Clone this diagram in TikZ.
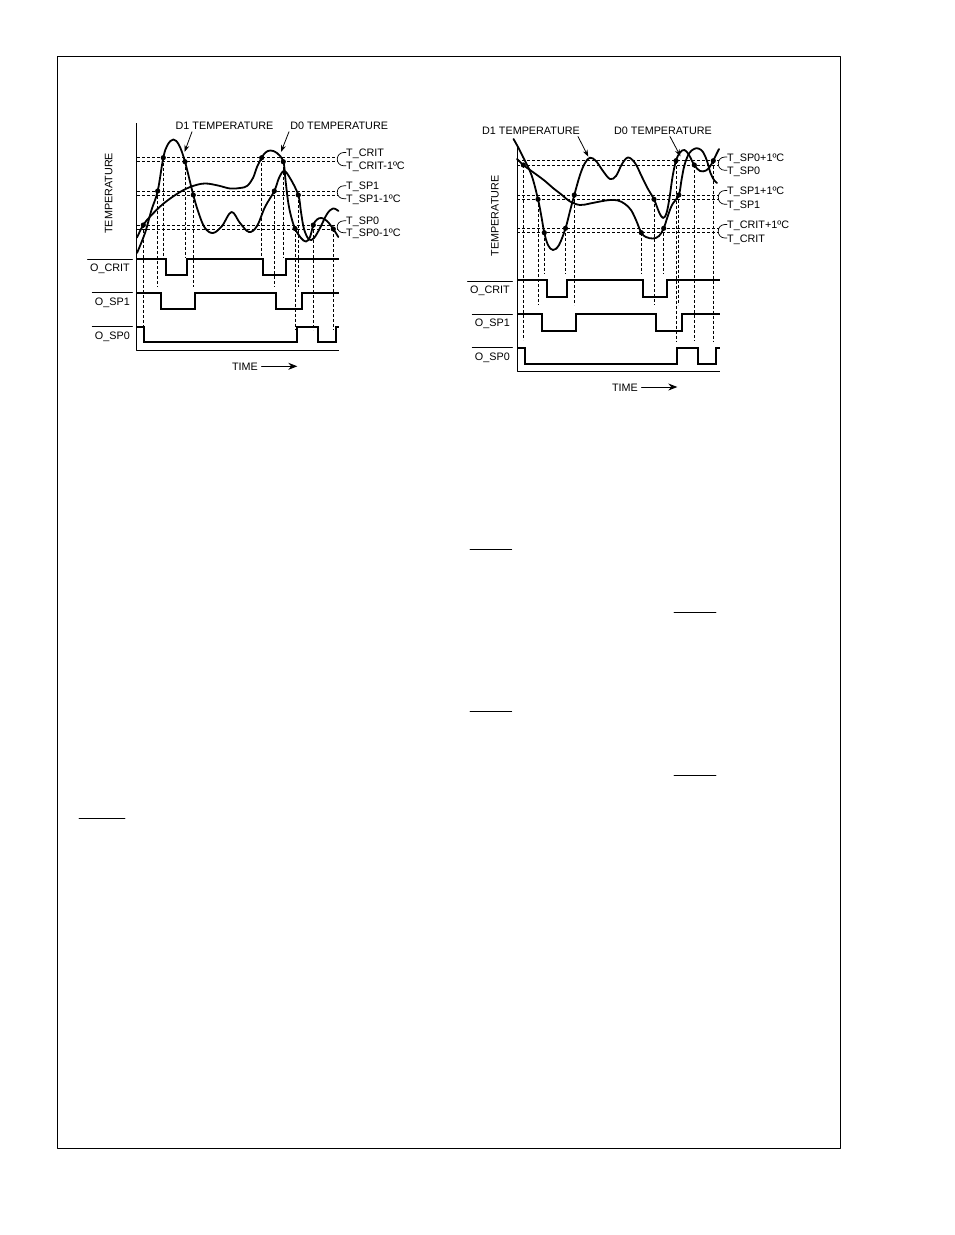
\documentclass[tikz,border=0pt]{standalone}
\usepackage{fontspec}
\setmainfont{Liberation Sans}
\usetikzlibrary{arrows.meta}
\begin{document}
\begin{tikzpicture}[x=1pt, y=-1pt, line join=round, line cap=round,
    font=\fontsize{10.8}{13}\selectfont,
    lbl/.style={inner sep=0pt, text height=8pt, text depth=0pt},
    tag/.style={inner sep=2pt, text height=8pt, text depth=0pt},
    signame/.style={anchor=north east, inner xsep=2.5pt, inner ysep=4.3pt, text height=8pt, text depth=0pt},
    lvl/.style={dash pattern=on 3pt off 2pt, line width=0.7pt, line cap=butt},
    drop/.style={dash pattern=on 3pt off 2pt, line width=0.7pt, line cap=butt},
    temp/.style={line width=1.8pt},
    sig/.style={line width=1.8pt, line join=miter, line cap=butt},
    axis/.style={line width=1.3pt, line cap=butt},
    brk/.style={line width=0.7pt},
    pointer/.style={line width=0.8pt, -{Stealth[length=7pt,width=5pt]}},
    timearrow/.style={line width=0.8pt, -{Stealth[length=9pt,width=7pt]}}]
\useasboundingbox (0,0) rectangle (954,1235);
\draw[line width=0.9pt] (57,56) rectangle (840,1148);

% ---------- left diagram ----------
\draw[axis] (136.7,123.3) -- (136.7,350.7) -- (339.3,350.7);
\foreach \y in {157.7,161.7,191,195,225,229} \draw[lvl] (137,\y) -- (337.5,\y);
\foreach \x/\a/\b in {143.3/225/330, 157.7/191/287, 163.3/157.7/257, 185/161.7/257,
    193.3/195/287, 261.7/157.7/257, 274.3/191/287, 283.3/161.7/257, 298.3/195/287,
    295/228.5/330, 313.3/225/330, 333.3/229/330}
  \draw[drop] (\x,\a) -- (\x,\b);
\draw[temp] plot[smooth, tension=0.6] coordinates {(137,253) (145,233) (151.5,210) (157.7,191)
    (163.3,157.7) (167.5,145) (173.3,139.5) (179,145) (185,161.7) (193.3,195) (199,214) (205,228)
    (213,233) (222,226) (231.5,212) (240,223) (249,232) (257,226) (265,207) (274.3,191) (279,178)
    (284,171) (290,178) (298.3,195) (301,212) (304,229) (309,239.5) (314,238) (320,228) (327,214)
    (333,208.5) (338.5,211)};
\draw[temp] plot[smooth, tension=0.6] coordinates {(137,237.5) (143.3,225) (150,216.7) (163,204)
    (180,192) (193,186) (205,183.5) (218,185.5) (230,188.5) (240,188) (247,186) (253,178) (257,167)
    (261.7,157.7) (265.5,152.5) (270.5,150.5) (277,153) (283.3,161.7) (285.5,180) (288,201) (291,216)
    (295,228.5) (301,238) (306,241.5) (310,237) (313.3,225) (317,219.5) (321.5,218) (327,221)
    (333.3,229) (338.3,237)};
\foreach \p in {(143.3,225),(157.7,191),(163.3,157.7),(185,161.7),(193.3,195),(261.7,157.7),
    (274.3,191),(283.3,161.7),(298.3,195),(295,228.5),(313.3,225),(333.3,229)}
  \fill \p circle (2.6pt);
% outputs
\draw[sig] (136.7,259) -- (166,259) -- (166,275) -- (187.3,275) -- (187.3,259) -- (262.7,259)
    -- (262.7,275) -- (285.7,275) -- (285.7,259) -- (339.3,259);
\draw[sig] (136.7,292.7) -- (161,292.7) -- (161,309) -- (195,309) -- (195,292.7) -- (276,292.7)
    -- (276,309) -- (301.7,309) -- (301.7,292.7) -- (339.3,292.7);
\draw[sig] (136.7,326.7) -- (144,326.7) -- (144,342.3) -- (297.3,342.3) -- (297.3,326.7)
    -- (318.3,326.7) -- (318.3,342.3) -- (335.7,342.3) -- (335.7,326.7) -- (339.3,326.7);
\node[signame] (ocritL) at (132.5,259) {O\_CRIT};
\node[signame] (osp1L) at (132.5,292.7) {O\_SP1};
\node[signame] (osp0L) at (132.5,326.7) {O\_SP0};
\foreach \n in {ocritL,osp1L,osp0L} \draw[line width=0.8pt] (\n.north west) -- (\n.north east);
% labels
\node[lbl, rotate=90] (tempL) at (108.3,193.3) {TEMPERATURE};
\node[tag] (d1L) at (224.5,125.5) {D1 TEMPERATURE};
\node[tag] (d0L) at (339.2,125.5) {D0 TEMPERATURE};
\coordinate (d1Ltip) at (184.5,152);
\coordinate (d0Ltip) at (281,152);
\draw[pointer] ([xshift=-32.5pt]d1L.south) -- (d1Ltip);
\draw[pointer] ([xshift=-50.2pt]d0L.south) -- (d0Ltip);
\node[lbl, anchor=west] (tcritL) at (346,152.5) {T\_CRIT};
\node[lbl, anchor=west] (tcritmL) at (346,165.8) {T\_CRIT-1ºC};
\node[lbl, anchor=west] (tspaL) at (346,185.8) {T\_SP1};
\node[lbl, anchor=west] (tspamL) at (346,198.7) {T\_SP1-1ºC};
\node[lbl, anchor=west] (tspbL) at (346,220.8) {T\_SP0};
\node[lbl, anchor=west] (tspbmL) at (346,232.8) {T\_SP0-1ºC};
\foreach \u/\l in {tcritL/tcritmL, tspaL/tspamL, tspbL/tspbmL}
  \draw[brk] (\u.west) -- ++(-2,0) .. controls +(-9,0) and +(-9,0) .. ([xshift=-2pt]\l.west) -- (\l.west);
\node[lbl] (timeL) at (245,366.3) {TIME};
\coordinate (timeLend) at (297.3,366.3);
\draw[timearrow] ([xshift=3.5pt]timeL.east) -- (timeLend);

% ---------- right diagram ----------
\draw[axis] (517.3,146.7) -- (517.3,371.7) -- (720,371.7);
\foreach \y in {160.7,165,195,199.3,228.3,232.7} \draw[lvl] (517.3,\y) -- (718.5,\y);
\foreach \x/\a/\b in {523.3/165/340, 538/199.3/305, 544.3/232.7/274, 565.5/228.3/274,
    574.3/195/305, 641.3/232.7/274, 654/199.3/305, 663.7/228.3/274, 676/160.7/341,
    678.8/195/305, 694.3/165/341, 713.3/160.7/341}
  \draw[drop] (\x,\a) -- (\x,\b);
\draw[temp] plot[smooth, tension=0.6] coordinates {(513.5,139) (518,147) (523,157) (531.5,175)
    (538,199.3) (541.5,217) (544.3,232.7) (548,245) (553,250) (559,245) (565.5,228.3) (570,211)
    (574.3,195) (580,175) (585,163) (590,157.7) (596,161) (603,171) (610,179) (616,176) (622,164)
    (628,157.5) (635,163) (642,177) (648,189) (654,199.3) (659,212) (663,218) (666.5,213)
    (669.5,198) (672.5,177) (676,160.7) (680,152.5) (684.5,150) (689,155) (694.3,165) (700,171)
    (706,170.5) (710,166.5) (713.3,160.7) (716,155) (719,149)};
\draw[temp] plot[smooth, tension=0.6] coordinates {(517,159) (523.3,165) (530,170) (537,175)
    (545,181) (553,188) (562,195) (570,201.5) (580,205) (590,203.5) (600,201.5) (610,200)
    (618,200.5) (625,204) (631,210) (636,220) (641.3,232.7) (646,237) (653,238.5) (659,236)
    (663.7,228.3) (667.5,217) (672,205) (678.8,195) (681.5,180) (684.5,165) (689,153.5) (694,149)
    (698.5,148.5) (703,152) (707,161) (710.5,173) (714,180) (717,183)};
\foreach \p in {(523.3,165),(538,199.3),(544.3,232.7),(565.5,228.3),(574.3,195),(641.3,232.7),
    (654,199.3),(663.7,228.3),(676,160.7),(678.8,195),(694.3,165),(713.3,160.7)}
  \fill \p circle (2.6pt);
% outputs
\draw[sig] (517.3,280) -- (546.7,280) -- (546.7,297.3) -- (567.3,297.3) -- (567.3,280) -- (643.3,280)
    -- (643.3,297.3) -- (666.7,297.3) -- (666.7,280) -- (720,280);
\draw[sig] (517.3,314) -- (542.3,314) -- (542.3,330.7) -- (576,330.7) -- (576,314) -- (656,314)
    -- (656,330.7) -- (681.7,330.7) -- (681.7,314) -- (720,314);
\draw[sig] (517.3,348.3) -- (525,348.3) -- (525,364) -- (677.3,364) -- (677.3,348.3)
    -- (698.3,348.3) -- (698.3,364) -- (716,364) -- (716,348.3) -- (720,348.3);
\node[signame] (ocritR) at (512.5,281) {O\_CRIT};
\node[signame] (osp1R) at (512.5,314) {O\_SP1};
\node[signame] (osp0R) at (512.5,347.5) {O\_SP0};
\foreach \n in {ocritR,osp1R,osp0R} \draw[line width=0.8pt] (\n.north west) -- (\n.north east);
% labels
\node[lbl, rotate=90] (tempR) at (494.7,215.8) {TEMPERATURE};
\node[tag] (d1R) at (531,130.3) {D1 TEMPERATURE};
\node[tag] (d0R) at (663,130.3) {D0 TEMPERATURE};
\coordinate (d1Rtip) at (588.3,156.7);
\coordinate (d0Rtip) at (680.5,156.3);
\draw[pointer] ([xshift=47pt]d1R.south) -- (d1Rtip);
\draw[pointer] ([xshift=7pt]d0R.south) -- (d0Rtip);
\node[lbl, anchor=west] (tspbR) at (727,157) {T\_SP0+1ºC};
\node[lbl, anchor=west] (tspbpR) at (727,170.3) {T\_SP0};
\node[lbl, anchor=west] (tspaR) at (727,190.5) {T\_SP1+1ºC};
\node[lbl, anchor=west] (tspapR) at (727,204.3) {T\_SP1};
\node[lbl, anchor=west] (tcritR) at (727,224.5) {T\_CRIT+1ºC};
\node[lbl, anchor=west] (tcritpR) at (727,238) {T\_CRIT};
\foreach \u/\l in {tspbR/tspbpR, tspaR/tspapR, tcritR/tcritpR}
  \draw[brk] (\u.west) -- ++(-2,0) .. controls +(-9,0) and +(-9,0) .. ([xshift=-2pt]\l.west) -- (\l.west);
\node[lbl] (timeR) at (625,387) {TIME};
\coordinate (timeRend) at (677.3,387);
\draw[timearrow] ([xshift=3.5pt]timeR.east) -- (timeRend);

% leftover overlines further down the page
\draw[line width=0.9pt] (470,549.3) -- (511.7,549.3);
\draw[line width=0.9pt] (674,612) -- (716,612);
\draw[line width=0.9pt] (470,711.3) -- (511.7,711.3);
\draw[line width=0.9pt] (674,775) -- (716,775);
\draw[line width=0.9pt] (79,818) -- (125,818);
\end{tikzpicture}
\end{document}
